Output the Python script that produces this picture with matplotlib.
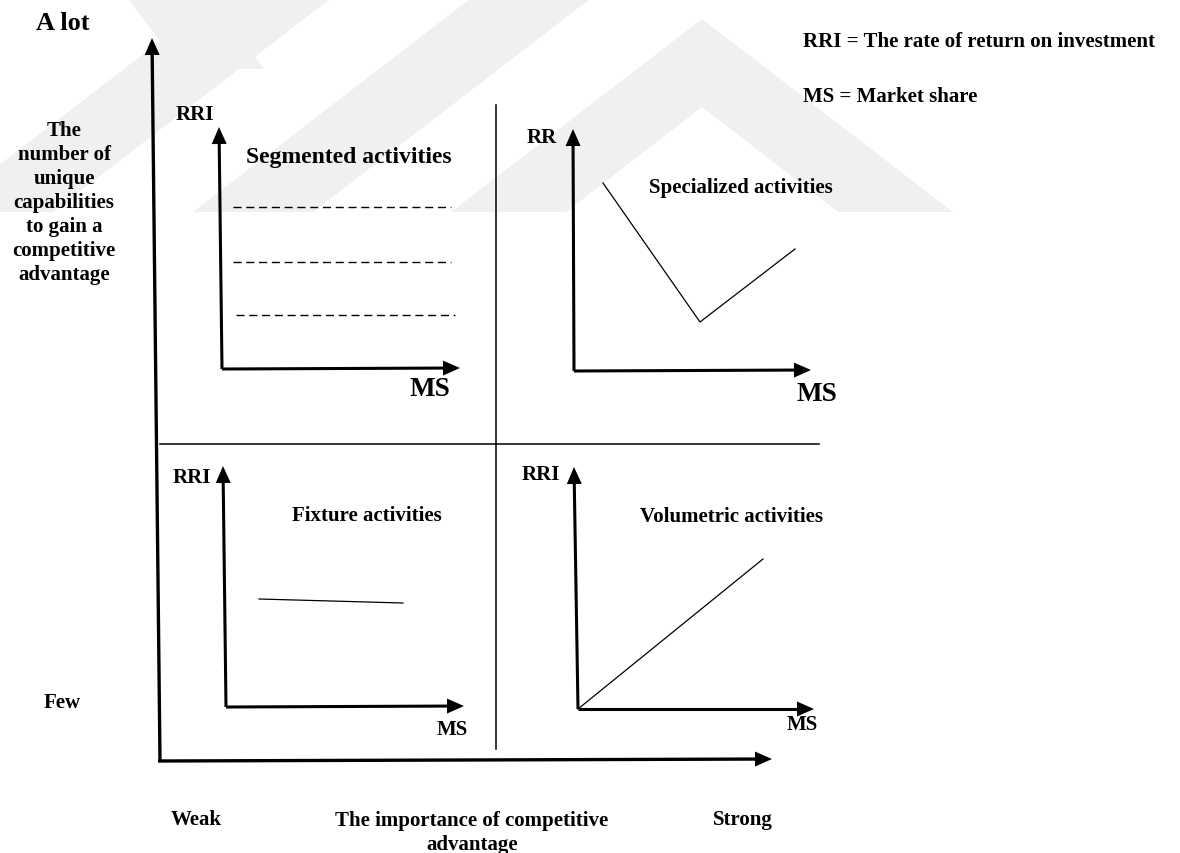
import math
import matplotlib
matplotlib.use('Agg')
import matplotlib.pyplot as plt
from matplotlib.patches import Polygon

# everything is in picture pixels, y grows downwards
W, H = 1180, 854

# main axes: (start, tip)
main_axes = [((160, 762), (152, 39)),
             ((158, 762), (772, 760))]

# small axes of the four panels: (origin, y tip, x tip)
panel_axes = [((222, 370), (219, 128), (460, 369)),
              ((574, 372), (573, 130), (811, 371)),
              ((226, 708), (223, 467), (464, 707)),
              ((578, 710), (574, 468), (814, 710))]

divider_v = ([496, 496], [106, 750])
divider_h = ([160, 819], [445, 445])

# segmented: three dashed levels
seg_x = [[233, 451], [233, 451], [236, 455]]
seg_y = [[208, 208], [263, 263], [316, 316]]
# specialized: V shape
spec_x = [603, 700, 795]
spec_y = [184, 323, 250]
# fixture: flat line
fix_x = [259, 403]
fix_y = [600, 604]
# volumetric: rising line
vol_x = [578, 763]
vol_y = [710, 560]

panel_titles = ['Segmented activities', 'Specialized activities',
                'Fixture activities', 'Volumetric activities']
title_pos = [(349, 157), (741, 188), (367, 516), (731, 517)]
title_size = [17, 15, 15, 15]
y_names = ['RRI', 'RR', 'RRI', 'RRI']
y_name_pos = [(195, 115), (542, 138), (192, 478), (541, 475)]
x_name_pos = [(430, 390), (817, 395), (452, 730), (802, 725)]
x_name_size = [19.5, 19.5, 15, 15]

left_text = 'The\nnumber of\nunique\ncapabilities\nto gain a\ncompetitive\nadvantage'
bottom_text = 'The importance of competitive\nadvantage'
legend_lines = ['RRI = The rate of return on investment', 'MS = Market share']

# faint watermark bands in the background
watermark = [
    [(128, 0), (210, 0), (264, 70), (182, 70)],
    [(215, 0), (330, 0), (53, 213), (-62, 213)],
    [(470, 0), (590, 0), (313, 213), (193, 213)],
    [(451, 213), (702, 20), (953, 213), (838, 213), (702, 108), (566, 213)],
]

FONT = 'Liberation Serif'


def arrow(ax, start, tip, lw=2.2, head_len=17, head_w=15):
    (x0, y0), (x1, y1) = start, tip
    length = math.hypot(x1 - x0, y1 - y0)
    ux, uy = (x1 - x0) / length, (y1 - y0) / length
    bx, by = x1 - ux * head_len, y1 - uy * head_len
    ax.plot([x0, bx], [y0, by], color='black', lw=lw, solid_capstyle='butt')
    nx, ny = -uy * head_w / 2, ux * head_w / 2
    ax.fill([x1, bx + nx, bx - nx], [y1, by + ny, by - ny], color='black', lw=0)


def label(ax, x, y, s, size=15, **kw):
    ax.text(x, y, s, fontsize=size, fontfamily=FONT, fontweight='bold',
            ha=kw.pop('ha', 'center'), va=kw.pop('va', 'center'), **kw)


fig = plt.figure(figsize=(W / 100, H / 100), dpi=100)
ax = fig.add_axes([0, 0, 1, 1])
ax.set_xlim(0, W)
ax.set_ylim(H, 0)
ax.axis('off')

for pts in watermark:
    ax.add_patch(Polygon(pts, closed=True, facecolor='#f0f0f0', edgecolor='none', zorder=0))

for start, tip in main_axes:
    arrow(ax, start, tip, lw=2.4)

for origin, ytip, xtip in panel_axes:
    arrow(ax, origin, ytip)
    arrow(ax, origin, xtip)

ax.plot(*divider_v, color='black', lw=1.1)
ax.plot(*divider_h, color='black', lw=1.1)

for xs, ys in zip(seg_x, seg_y):
    ax.plot(xs, ys, color='black', lw=1.0, linestyle=(0, (5.8, 3.4)))
ax.plot(spec_x, spec_y, color='black', lw=0.9)
ax.plot(fix_x, fix_y, color='black', lw=0.9)
ax.plot(vol_x, vol_y, color='black', lw=0.9)

for s, (x, y), size in zip(panel_titles, title_pos, title_size):
    label(ax, x, y, s, size)
for s, (x, y) in zip(y_names, y_name_pos):
    label(ax, x, y, s)
for (x, y), size in zip(x_name_pos, x_name_size):
    label(ax, x, y, 'MS', size)

label(ax, 63, 23, 'A lot', 19)
label(ax, 64, 203, left_text, linespacing=1.27)
label(ax, 62, 703, 'Few')
label(ax, 196, 820, 'Weak')
label(ax, 472, 833, bottom_text, linespacing=1.33)
label(ax, 743, 820, 'Strong')
label(ax, 803, 42, legend_lines[0], ha='left')
label(ax, 803, 97, legend_lines[1], ha='left')

fig.savefig('out.png', dpi=100, facecolor='white')
